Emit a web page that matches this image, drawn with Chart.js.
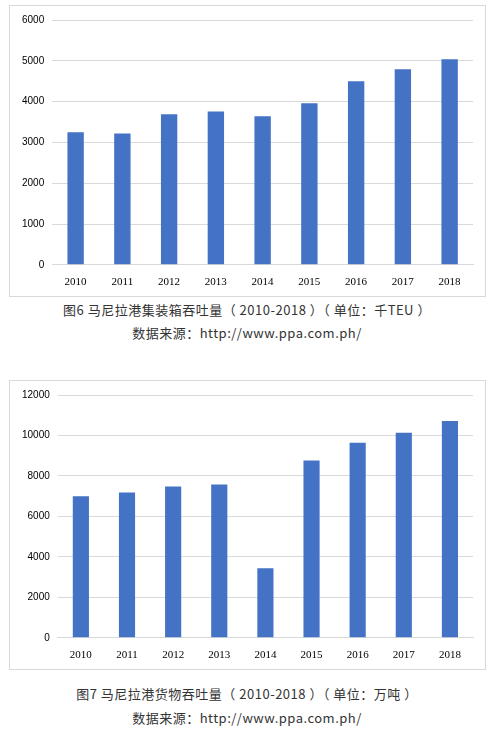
<!DOCTYPE html>
<html><head><meta charset="utf-8">
<script src="https://cdn.jsdelivr.net/npm/chart.js@4/dist/chart.umd.min.js"></script>
<style>
body{margin:0;background:#fff;width:494px;height:737px;position:relative;font-family:"Noto Sans CJK SC",sans-serif}
.box{position:absolute;left:9px;width:477px;border:1px solid #d9d9d9;box-sizing:border-box}
.cap{position:absolute;left:0;width:494px;text-align:center;font-size:13px;color:#333;letter-spacing:0.5px}
</style></head><body>
<div class="box" style="top:5px;height:292px"><canvas id="c1"></canvas></div>
<div class="cap" style="top:300px">图6 马尼拉港集装箱吞吐量（ 2010-2018 ）（ 单位：千TEU ）</div>
<div class="cap" style="top:323px">数据来源：http://www.ppa.com.ph/</div>
<div class="box" style="top:380px;height:290px"><canvas id="c2"></canvas></div>
<div class="cap" style="top:684px">图7 马尼拉港货物吞吐量（ 2010-2018 ）（ 单位：万吨 ）</div>
<div class="cap" style="top:708px">数据来源：http://www.ppa.com.ph/</div>
<script>
// years on x axis
const years = ['2010','2011','2012','2013','2014','2015','2016','2017','2018'];
// container throughput, thousand TEU
const teu = [3250, 3220, 3690, 3760, 3640, 3960, 4500, 4790, 5040];
// cargo throughput, 10k tons
const cargo = [7000, 7180, 7480, 7580, 3440, 8760, 9640, 10130, 10720];

function draw(id, vals, max, step) {
    new Chart(document.getElementById(id), {
        type: 'bar',
        data: { labels: years, datasets: [{ data: vals, backgroundColor: '#4472c4', barPercentage: 0.35, categoryPercentage: 1 }] },
        options: {
            responsive: true, maintainAspectRatio: false, animation: false,
            layout: { padding: { top: 8, right: 12, bottom: 4, left: 4 } },
            plugins: { legend: { display: false }, tooltip: { enabled: false } },
            scales: {
                x: { grid: { display: false }, border: { color: '#d9d9d9' },
                     ticks: { color: '#000', font: { family: 'Liberation Serif', size: 11 } } },
                y: { min: 0, max: max,
                     ticks: { stepSize: step, color: '#000', padding: 8, callback: v => String(v), font: { family: 'Liberation Sans', size: 10 } },
                     grid: { color: '#d9d9d9', drawTicks: false }, border: { display: false } }
            }
        }
    });
}
draw('c1', teu, 6000, 1000);
draw('c2', cargo, 12000, 2000);
</script>
</body></html>
